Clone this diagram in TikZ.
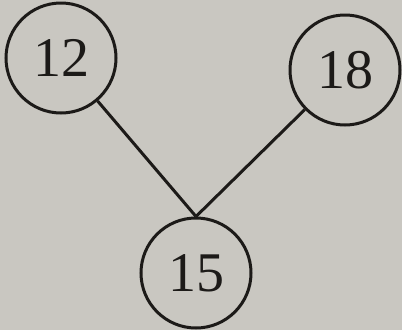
\documentclass[tikz,border=0pt]{standalone}
\usepackage{fontspec}
\setmainfont{Liberation Serif}
\definecolor{paper}{RGB}{201,199,193}
\definecolor{ink}{RGB}{28,26,24}
\begin{document}
\begin{tikzpicture}[x=1pt,y=-1pt,
  vertex/.style={circle,draw=ink,line width=3pt,minimum size=110pt,inner sep=0pt,
    font=\fontsize{56}{60}\selectfont,text=ink},
  edge/.style={draw=ink,line width=3pt}]
\fill[paper] (0,0) rectangle (402,330);
\useasboundingbox (0,0) rectangle (402,330);
\node[vertex] (a) at (61,58) {12};
\node[vertex] (b) at (345,70) {18};
\node[vertex] (c) at (196,273) {15};
\draw[edge] (a) -- (c.north);
\draw[edge] (b) -- (c.north);
\end{tikzpicture}
\end{document}
